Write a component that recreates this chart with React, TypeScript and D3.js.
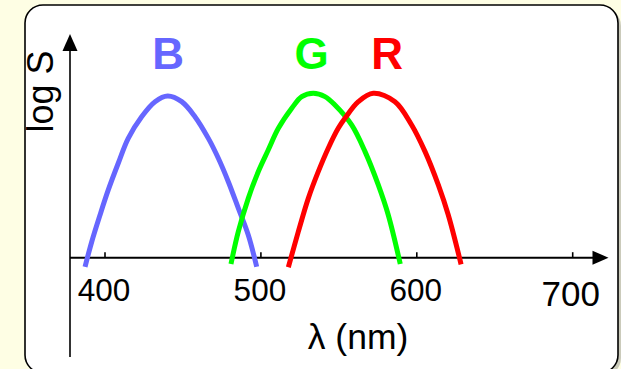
import React from "react";
import * as d3 from "d3";

const tickValues = [400, 500, 600, 700];
const tickLabels = ["400", "500", "600", "700"];

const blueCurve: [number, number][] = [
  [387.2, -5.6], [391.5, 9.9], [396.8, 26.4], [402.1, 41.9], [408.5, 58.4],
  [414.9, 73.8], [423.5, 87.2], [432.1, 96.5], [440.2, 100], [449.2, 96.5],
  [457.7, 87.2], [466.3, 73.8], [472.7, 61.5], [479.1, 47.0], [485.5, 30.6],
  [491.9, 14.0], [497.3, -5.6],
];
const greenCurve: [number, number][] = [
  [480.8, -3.9], [485.5, 16.1], [491.9, 36.7], [498.3, 53.2], [504.7, 66.6],
  [511.2, 80.0], [519.8, 92.4], [526.2, 99.6], [533.6, 101.7], [541.1, 99.6],
  [547.5, 94.4], [558.2, 82.1], [566.8, 65.6], [575.3, 45.0], [581.7, 26.4], [589.4, -3.9],
];
const redCurve: [number, number][] = [
  [517.6, -5.9], [524.0, 16.1], [530.4, 36.7], [536.8, 53.2], [543.2, 67.7],
  [549.6, 80.0], [553.9, 86.2], [562.5, 96.5], [572.1, 101.7], [586.0, 96.5],
  [596.7, 82.1], [605.3, 65.6], [613.8, 45.0], [620.2, 26.4], [628.4, -4.1],
];

const seriesNames = ["B", "G", "R"];
const seriesColors = ["#6666ff", "#00ff00", "#ff0000"];
const seriesData = [blueCurve, greenCurve, redCurve];
const labelX = [440.5, 532.5, 581];

export default function App() {
  const W = 621, H = 369;
  const x = d3.scaleLinear().domain([400, 700]).range([105, 572.7]);
  const y = d3.scaleLinear().domain([0, 100]).range([257.7, 96]);
  const line = d3
    .line<[number, number]>()
    .x((d) => x(d[0]))
    .y((d) => y(d[1]))
    .curve(d3.curveCatmullRom.alpha(0.5));

  const axisY = y(0);
  const axisX0 = 70;
  const fontFamily = "'Liberation Sans', Arial, Helvetica, sans-serif";

  return (
    <svg
      width={W}
      height={H}
      style={{ position: "absolute", left: 0, top: 0 }}
      xmlns="http://www.w3.org/2000/svg"
    >
      <rect x={0} y={0} width={W} height={H} fill="#fefee4" />
      <rect x={28} y={8} width={593} height={368} rx={18} ry={18} fill="#a8a8a0" opacity={0.6} />
      <rect x={25} y={5} width={593} height={368} rx={18} ry={18} fill="#ffffff" stroke="#000" strokeWidth={1.6} />

      {/* y axis */}
      <line x1={axisX0} y1={357} x2={axisX0} y2={48} stroke="#000" strokeWidth={1.6} />
      <path d={`M${axisX0},34 L${axisX0 - 7.5},51 L${axisX0 + 7.5},51 Z`} fill="#000" />

      {/* x axis */}
      <line x1={axisX0} y1={axisY} x2={595} y2={axisY} stroke="#000" strokeWidth={2} />
      <path d={`M608.5,${axisY} L592.5,${axisY - 7} L592.5,${axisY + 7} Z`} fill="#000" />
      {tickValues.map((t) => (
        <line key={t} x1={x(t)} x2={x(t)} y1={axisY} y2={axisY - 5.5} stroke="#000" strokeWidth={1.6} />
      ))}

      {/* curves */}
      {seriesData.map((d, i) => (
        <path key={seriesNames[i]} d={line(d) || ""} fill="none" stroke={seriesColors[i]} strokeWidth={5} strokeLinecap="butt" />
      ))}

      {/* tick labels */}
      {tickValues.map((t, i) => (
        <text
          key={t}
          x={x(t) - (i === 3 ? 2 : 1)}
          y={i === 3 ? 306 : 301}
          fontSize={i === 3 ? 35 : 31.5}
          textAnchor="middle"
          fontFamily={fontFamily}
          fill="#000"
        >
          {tickLabels[i]}
        </text>
      ))}

      {/* axis titles */}
      <text x={358} y={348.5} fontSize={35.5} textAnchor="middle" fontFamily={fontFamily} fill="#000">
        λ (nm)
      </text>
      <text
        transform="translate(52.5,91.5) rotate(-90)"
        fontSize={36}
        textAnchor="middle"
        fontFamily={fontFamily}
        fill="#000"
      >
        log S
      </text>

      {/* series labels */}
      {seriesNames.map((n, i) => (
        <text
          key={n}
          x={x(labelX[i])}
          y={69}
          fontSize={44}
          fontWeight="bold"
          textAnchor="middle"
          fontFamily={fontFamily}
          fill={seriesColors[i]}
        >
          {n}
        </text>
      ))}
    </svg>
  );
}
